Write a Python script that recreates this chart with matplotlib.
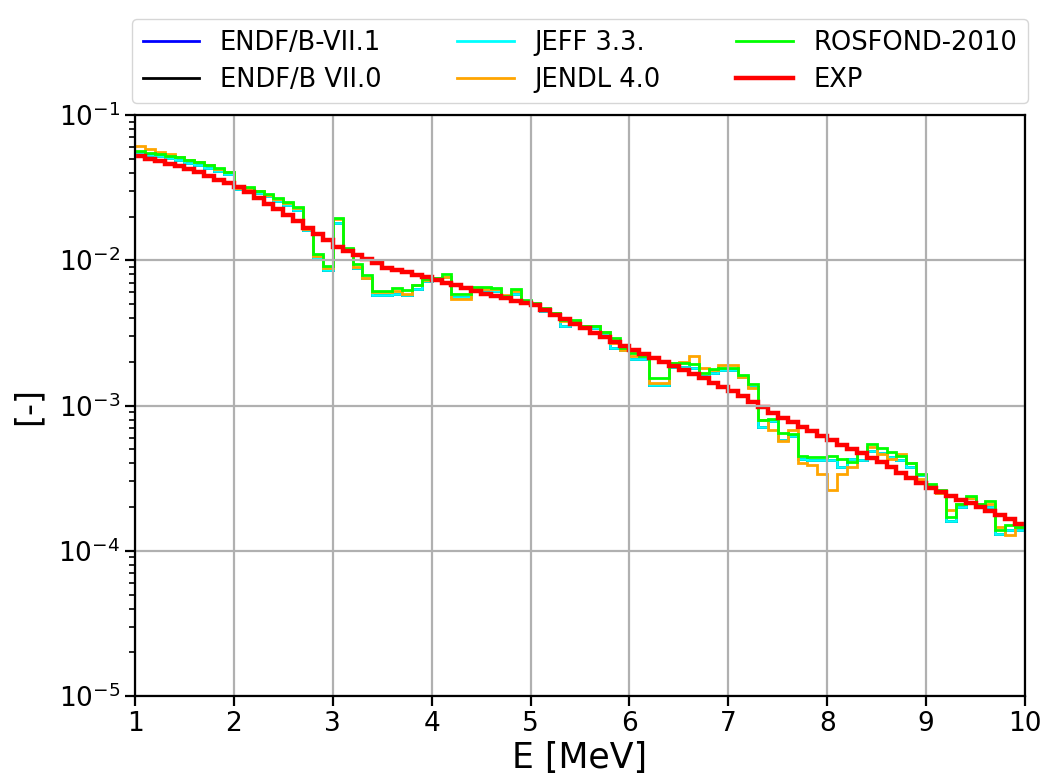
import numpy as np
import matplotlib
matplotlib.use("Agg")
import matplotlib.pyplot as plt

# energy bin edges, 0.1 MeV wide from 1 to 10 MeV
e_edges = np.round(np.linspace(1.0, 10.0, 91), 1)

exp = [
    0.0522, 0.0501, 0.0481, 0.0461, 0.0443, 0.0427, 0.0403, 0.0380, 0.0359, 0.0339,
    0.0321, 0.0295, 0.0269, 0.0245, 0.0224, 0.0204, 0.0185, 0.0167, 0.0151, 0.0137,
    0.0124, 0.0116, 0.0109, 0.0102, 0.00955, 0.00891, 0.00857, 0.00824, 0.00793, 0.00762,
    0.00733, 0.00702, 0.00671, 0.00643, 0.00615, 0.00589, 0.00568, 0.00547, 0.00527, 0.00508,
    0.00490, 0.00455, 0.00423, 0.00393, 0.00365, 0.00339, 0.00316, 0.00295, 0.00275, 0.00257,
    0.00240, 0.00225, 0.00212, 0.00199, 0.00187, 0.00176, 0.00164, 0.00154, 0.00144, 0.00135,
    0.00126, 0.00116, 0.00106, 0.000975, 0.000895, 0.000822, 0.000766, 0.000713, 0.000664, 0.000618,
    0.000575, 0.000537, 0.000501, 0.000468, 0.000437, 0.000407, 0.000375, 0.000345, 0.000318, 0.000292,
    0.000269, 0.000254, 0.000239, 0.000225, 0.000212, 0.000200, 0.000188, 0.000176, 0.000166, 0.000152,
]

rosfond = [
    0.0569, 0.0551, 0.0539, 0.0522, 0.0512, 0.0490, 0.0477, 0.0453, 0.0430, 0.0408,
    0.0321, 0.0318, 0.0301, 0.0286, 0.0267, 0.0253, 0.0232, 0.0166, 0.0110, 0.0091,
    0.0195, 0.0122, 0.0094, 0.0079, 0.0061, 0.0061, 0.0064, 0.0062, 0.0068, 0.0074,
    0.0076, 0.0080, 0.0059, 0.0059, 0.0065, 0.0065, 0.0064, 0.0057, 0.0063, 0.0053,
    0.0051, 0.0047, 0.0043, 0.0039, 0.0039, 0.0035, 0.0035, 0.0032, 0.0029, 0.0025,
    0.0023, 0.0022, 0.00155, 0.00155, 0.00197, 0.00197, 0.00194, 0.00168, 0.00178, 0.00182,
    0.00182, 0.00163, 0.00141, 0.00080, 0.00081, 0.00065, 0.00064, 0.00045, 0.00044, 0.00044,
    0.00045, 0.00043, 0.00041, 0.00047, 0.00054, 0.00051, 0.00048, 0.00045, 0.00040, 0.00034,
    0.00029, 0.00026, 0.00017, 0.00021, 0.00024, 0.00021, 0.00022, 0.000140, 0.000150, 0.000145,
]

jeff33 = [
    0.0545, 0.0530, 0.0518, 0.0502, 0.0490, 0.0470, 0.0456, 0.0434, 0.0412, 0.0390,
    0.0308, 0.0304, 0.0290, 0.0275, 0.0256, 0.0240, 0.0222, 0.0162, 0.0103, 0.0085,
    0.0180, 0.0116, 0.0088, 0.0076, 0.0058, 0.0058, 0.0059, 0.0058, 0.0063, 0.0072,
    0.0075, 0.0077, 0.0056, 0.0056, 0.0064, 0.0062, 0.0061, 0.0056, 0.0059, 0.0051,
    0.0049, 0.0045, 0.0042, 0.0035, 0.0037, 0.0034, 0.0034, 0.0031, 0.0025, 0.0024,
    0.0021, 0.0021, 0.00139, 0.00139, 0.00185, 0.00183, 0.00182, 0.00160, 0.00168, 0.00175,
    0.00176, 0.00158, 0.00135, 0.00071, 0.00078, 0.00058, 0.00062, 0.00043, 0.00042, 0.00042,
    0.00042, 0.00038, 0.00043, 0.00042, 0.00049, 0.00047, 0.00044, 0.00042, 0.00038, 0.00033,
    0.00028, 0.00025, 0.000160, 0.00020, 0.00023, 0.00020, 0.00020, 0.000130, 0.000140, 0.000140,
]

jendl40 = [
    0.0615, 0.0585, 0.0560, 0.0535, 0.0515, 0.0492, 0.0475, 0.0450, 0.0425, 0.0402,
    0.0315, 0.0312, 0.0300, 0.0283, 0.0262, 0.0246, 0.0228, 0.0164, 0.0107, 0.0088,
    0.0192, 0.0120, 0.0090, 0.0076, 0.0060, 0.0060, 0.0061, 0.0059, 0.0068, 0.0073,
    0.0074, 0.0077, 0.0054, 0.0054, 0.0064, 0.0063, 0.0063, 0.0058, 0.0061, 0.0052,
    0.0050, 0.0046, 0.0043, 0.0038, 0.0038, 0.0035, 0.0035, 0.0032, 0.0027, 0.0024,
    0.0022, 0.0022, 0.00143, 0.00143, 0.00195, 0.00200, 0.00220, 0.00180, 0.00176, 0.00189,
    0.00190, 0.00158, 0.00133, 0.00080, 0.00068, 0.00057, 0.00068, 0.00040, 0.00039, 0.00034,
    0.00026, 0.00034, 0.00038, 0.00048, 0.00052, 0.00046, 0.00043, 0.00046, 0.00040, 0.00031,
    0.00028, 0.00025, 0.00019, 0.00021, 0.00023, 0.00021, 0.00021, 0.000145, 0.000128, 0.000145,
]

# the two ENDF/B curves are hidden under the others in the picture
endf71 = jeff33
endf70 = jeff33

fig = plt.figure(figsize=(10.45, 7.79), dpi=100)
ax = fig.add_axes([0.1292, 0.1065, 0.8517, 0.7459])

ax.stairs(endf71, e_edges, baseline=None, color="blue", lw=2.0, label="ENDF/B-VII.1")
ax.stairs(endf70, e_edges, baseline=None, color="black", lw=2.0, label="ENDF/B VII.0")
ax.stairs(jeff33, e_edges, baseline=None, color="cyan", lw=2.0, label="JEFF 3.3.")
ax.stairs(jendl40, e_edges, baseline=None, color="orange", lw=2.0, label="JENDL 4.0")
ax.stairs(rosfond, e_edges, baseline=None, color="lime", lw=2.0, label="ROSFOND-2010")
ax.stairs(exp, e_edges, baseline=None, color="red", lw=3.2, label="EXP")

ax.set_yscale("log")
ax.set_xlim(1, 10)
ax.set_ylim(1e-5, 1e-1)
ax.grid(True, which="major", color="#b0b0b0", lw=1.6)
ax.tick_params(labelsize=19, width=1.6, length=7)
ax.tick_params(which="minor", width=1.2, length=4)
for s in ax.spines.values():
    s.set_linewidth(1.6)
ax.set_xlabel("E [MeV]", fontsize=25, labelpad=3)
ax.set_ylabel("[-]", fontsize=24, labelpad=10)

ax.legend(ncol=3, loc="lower left", bbox_to_anchor=(-0.003, 1.02, 1.006, 0.2), mode="expand",
          fontsize=18.5, handlelength=2.2, borderaxespad=0.0, labelspacing=0.45)

fig.savefig("out.png", dpi=100)
